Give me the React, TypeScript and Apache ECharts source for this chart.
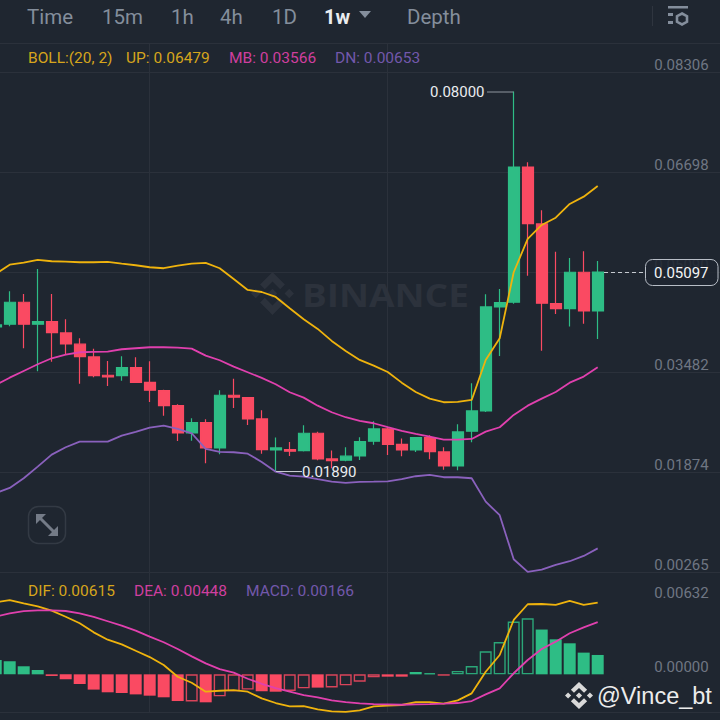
import React, { useEffect, useRef } from "react";
import * as echarts from "echarts";

const BG = "#1f2630";
const GRID = "#2b313b";
const UP = "#2ebd85";
const DOWN = "#fa4a62";
const YELLOW = "#efb30d";
const PINK = "#e040ae";
const PURPLE = "#8a61bd";
const FONT = "Roboto";

// open, close, low, high
const candles = [
  [0.04214, 0.04246, 0.04085, 0.04487],
  [0.04257, 0.04611, 0.04225, 0.04788],
  [0.04611, 0.04257, 0.03871, 0.04744],
  [0.04257, 0.04299, 0.03501, 0.05146],
  [0.04299, 0.04122, 0.03656, 0.04744],
  [0.04117, 0.0394, 0.0378, 0.04337],
  [0.03936, 0.03736, 0.03302, 0.04032],
  [0.03731, 0.03431, 0.03405, 0.03865],
  [0.03437, 0.0341, 0.03265, 0.03667],
  [0.03431, 0.03559, 0.0335, 0.03743],
  [0.03559, 0.03324, 0.03313, 0.03726],
  [0.03324, 0.03196, 0.03008, 0.03662],
  [0.03189, 0.02948, 0.02787, 0.03205],
  [0.02948, 0.02509, 0.02381, 0.02971],
  [0.02509, 0.02675, 0.02385, 0.02745],
  [0.02675, 0.02268, 0.02022, 0.02729],
  [0.02268, 0.03115, 0.02167, 0.03196],
  [0.03115, 0.03083, 0.02911, 0.03382],
  [0.03077, 0.02734, 0.02638, 0.03088],
  [0.02734, 0.02241, 0.02176, 0.02874],
  [0.02236, 0.02268, 0.0189, 0.02434],
  [0.02241, 0.02215, 0.02139, 0.02364],
  [0.02225, 0.02504, 0.02209, 0.02633],
  [0.02504, 0.02091, 0.0207, 0.0253],
  [0.02091, 0.02064, 0.01942, 0.02225],
  [0.0207, 0.02135, 0.02054, 0.02279],
  [0.02139, 0.02369, 0.02075, 0.0244],
  [0.02376, 0.02574, 0.02321, 0.02697],
  [0.02574, 0.02327, 0.02155, 0.02594],
  [0.02327, 0.02236, 0.02134, 0.02418],
  [0.02236, 0.02434, 0.02204, 0.0244],
  [0.02434, 0.02209, 0.02086, 0.02472],
  [0.02204, 0.01979, 0.01919, 0.02279],
  [0.01979, 0.02525, 0.01909, 0.02649],
  [0.02537, 0.02863, 0.0236, 0.03308],
  [0.02863, 0.04535, 0.02847, 0.0474],
  [0.04535, 0.04604, 0.03747, 0.04825],
  [0.04611, 0.06786, 0.04588, 0.08],
  [0.06786, 0.05875, 0.05039, 0.06862],
  [0.0587, 0.04595, 0.03833, 0.0609],
  [0.04588, 0.04508, 0.04423, 0.05425],
  [0.04508, 0.05093, 0.04219, 0.05323],
  [0.05093, 0.04471, 0.04267, 0.05431],
  [0.04471, 0.05097, 0.04021, 0.05275],
];

const bollUp = [
  0.05066, 0.05215, 0.05248, 0.05291, 0.0527, 0.05264, 0.05254, 0.05254, 0.05259, 0.05232, 0.05206,
  0.05174, 0.05158, 0.05199, 0.05232, 0.05243, 0.05158, 0.04986, 0.04809, 0.04776, 0.04696, 0.04514,
  0.04337, 0.04182, 0.03989, 0.03828, 0.03683, 0.03591, 0.0349, 0.03318, 0.03168, 0.03061, 0.03003,
  0.03008, 0.0304, 0.03683, 0.04032, 0.05093, 0.05629, 0.05854, 0.05971, 0.06192, 0.06309, 0.06479,
];
const bollMid = [
  0.03281, 0.03398, 0.03506, 0.03614, 0.0371, 0.03768, 0.03807, 0.03812, 0.03817, 0.03855, 0.03871,
  0.03887, 0.03887, 0.03881, 0.03865, 0.03752, 0.03678, 0.03575, 0.03485, 0.03394, 0.03292, 0.03164,
  0.03077, 0.02948, 0.02842, 0.02762, 0.02702, 0.02665, 0.02601, 0.02541, 0.02493, 0.0245, 0.02401,
  0.02401, 0.02413, 0.0253, 0.02601, 0.02799, 0.02948, 0.03061, 0.03168, 0.03318, 0.03415, 0.03566,
];
const bollDown = [
  0.01544, 0.01625, 0.01781, 0.01967, 0.0216, 0.02279, 0.02369, 0.02369, 0.02369, 0.02466, 0.02525,
  0.02594, 0.02627, 0.02574, 0.02504, 0.02252, 0.02204, 0.02199, 0.02176, 0.02043, 0.01887, 0.01823,
  0.01806, 0.01765, 0.01726, 0.01705, 0.01721, 0.01726, 0.01732, 0.01765, 0.01813, 0.01834, 0.01797,
  0.01797, 0.01781, 0.01405, 0.01186, 0.00478, 0.00274, 0.00311, 0.00387, 0.00446, 0.00531, 0.00653,
];
const dif = [
  0.00618, 0.00637, 0.00609, 0.00583, 0.00546, 0.00494, 0.00438, 0.0036, 0.00297, 0.00257, 0.00202,
  0.00148, 0.0008, -0.00021, -0.00072, -0.00149, -0.00141, -0.00135, -0.00149, -0.00206, -0.00246,
  -0.00275, -0.00272, -0.003, -0.00318, -0.00322, -0.00309, -0.00275, -0.00269, -0.00263, -0.00238,
  -0.00238, -0.00252, -0.00223, -0.00163, 0.00022, 0.00166, 0.00466, 0.00601, 0.00603, 0.00595,
  0.00629, 0.00595, 0.00615,
];
const dea = [
  0.00494, 0.00523, 0.00541, 0.00549, 0.00549, 0.00543, 0.00523, 0.00492, 0.00455, 0.00417, 0.00374,
  0.00323, 0.00275, 0.00217, 0.00154, 0.00094, 0.00045, 0.00014, -0.00038, -0.00081, -0.00118,
  -0.00149, -0.00178, -0.00197, -0.00223, -0.00238, -0.00249, -0.00255, -0.00257, -0.00261, -0.00257,
  -0.00255, -0.00252, -0.00246, -0.00229, -0.00172, -0.0012, 0.00009, 0.00123, 0.00217, 0.0028,
  0.00352, 0.00403, 0.00448,
];
const macd = [
  0.00123, 0.00112, 0.00069, 0.00037, -0.00014, -0.00043, -0.00083, -0.00131, -0.00154, -0.0016,
  -0.00172, -0.00183, -0.00197, -0.00229, -0.00232, -0.0024, -0.00189, -0.00146, -0.00131, -0.00146,
  -0.00149, -0.00143, -0.0012, -0.00114, -0.00112, -0.00094, -0.00063, -0.00026, -0.0002, -0.0002,
  0.0002, 0.00011, -0.00011, 0.00029, 0.00071, 0.00197, 0.00277, 0.00452, 0.0048, 0.00384, 0.003,
  0.00266, 0.00186, 0.00166,
];
// indexes of the MACD bars that are drawn hollow
const hollowBars = [14, 16, 17, 18, 21, 22, 24, 25, 26, 27, 31, 33, 34, 35, 36, 37, 38];

const emptySlots = 9;
const categories = [...candles.map((_, i) => `W${i + 1}`), ...Array(emptySlots).fill("").map((_, i) => `+${i + 1}`)];

const priceTicks = [0.00265, 0.01874, 0.03482, 0.0509, 0.06698, 0.08306];
const macdTicks = [0, 0.00632];
const priceTop = 0.0878;
const priceBottom = 0.00265;
const macdTop = 0.00873;
const macdBottom = -0.00323;
const verticalLines = [11, 28];

const tabs = [
  { label: "Time", x: 27 },
  { label: "15m", x: 102 },
  { label: "1h", x: 171 },
  { label: "4h", x: 220 },
  { label: "1D", x: 272 },
  { label: "Depth", x: 407 },
];

echarts.graphic.registerShape(
  "binanceLogo",
  echarts.graphic.extendPath(
    "M50 0L79 29L68 40L50 22L32 40L21 29ZM50 100L21 71L32 60L50 78L68 60L79 71ZM50 39L61 50L50 61L39 50ZM11 39L22 50L11 61L0 50ZM89 39L100 50L89 61L78 50Z",
    {}
  )
);

function label(text: string, x: number, y: number, fill: string, size = 15.5, extra: any = {}) {
  return {
    type: "text",
    x,
    y,
    silent: true,
    z: 100,
    style: {
      text,
      fill,
      fontFamily: extra.fontFamily ?? FONT,
      fontSize: size,
      fontWeight: extra.fontWeight ?? "normal",
      align: extra.align ?? "left",
      verticalAlign: "middle",
    },
  };
}

function line(x1: number, y1: number, x2: number, y2: number, stroke: string, lineWidth = 1, dash?: number[]) {
  return {
    type: "line",
    silent: true,
    z: 100,
    shape: { x1, y1, x2, y2 },
    style: { stroke, lineWidth, lineDash: dash },
  };
}

const graphics: any[] = [
  ...tabs.map((t) => label(t.label, t.x, 17, "#848e9c", 20.5)),
  label("1w", 324, 17, "#eaecef", 20, { fontWeight: "bold" }),
  { type: "polygon", silent: true, shape: { points: [[359, 11], [371, 11], [365, 18]] }, style: { fill: "#848e9c" } },
  line(652.5, 6, 652.5, 26, "#2f353f", 1),
  { type: "rect", silent: true, shape: { x: 668, y: 6, width: 20, height: 2.5 }, style: { fill: "#848e9c" } },
  { type: "rect", silent: true, shape: { x: 668, y: 13, width: 5, height: 3 }, style: { fill: "#848e9c" } },
  { type: "rect", silent: true, shape: { x: 668, y: 21, width: 5, height: 3 }, style: { fill: "#848e9c" } },
  {
    type: "polygon",
    silent: true,
    shape: { points: [[682, 13.5], [687, 16.2], [687, 21.8], [682, 24.5], [677, 21.8], [677, 16.2]] },
    style: { fill: "none", stroke: "#848e9c", lineWidth: 2.6 },
  },

  label("BOLL:(20, 2)", 28, 58, "#d6a51c"),
  label("UP: 0.06479", 126, 58, "#d6a51c"),
  label("MB: 0.03566", 229, 58, "#cf3f9f"),
  label("DN: 0.00653", 335, 58, "#7358ab"),

  label("DIF: 0.00615", 28, 591, "#d6a51c"),
  label("DEA: 0.00448", 134, 591, "#cf3f9f"),
  label("MACD: 0.00166", 246, 591, "#7358ab"),

  { type: "binanceLogo", silent: true, z: 1, x: 251, y: 272, scaleX: 0.43, scaleY: 0.43, style: { fill: "#2c323c" } },
  {
    type: "text",
    silent: true,
    z: 1,
    x: 302,
    y: 294,
    scaleX: 1.12,
    style: {
      text: "BINANCE",
      fill: "#2c323c",
      fontFamily: "Open Sans",
      fontWeight: "bold",
      fontSize: 33,
      align: "left",
      verticalAlign: "middle",
    },
  },

  { type: "rect", silent: true, shape: { x: 28.5, y: 506.5, width: 37, height: 37, r: 10 }, style: { fill: "none", stroke: "#333a44", lineWidth: 1.5 } },
  { type: "polygon", silent: true, shape: { points: [[36, 514], [46, 514], [36, 524]] }, style: { fill: "#747b87" } },
  { type: "polygon", silent: true, shape: { points: [[58, 536], [48, 536], [58, 526]] }, style: { fill: "#747b87" } },
  line(40, 518, 54, 532, "#747b87", 3),

  line(487, 92, 513.5, 92, "#8f959e", 1),
  label("0.08000", 430, 92, "#eaecef", 15),
  line(276, 471.5, 302, 471.5, "#c6cad0", 1),
  label("0.01890", 302, 472, "#eaecef", 15),

  line(604, 272.5, 645, 272.5, "#c6cad0", 1, [4, 3]),
  {
    type: "rect",
    silent: true,
    z: 99,
    shape: { x: 645.5, y: 259.5, width: 72.5, height: 26, r: 7 },
    style: { fill: "rgba(31,38,48,0.88)", stroke: "#b7bdc6", lineWidth: 1 },
  },
  label("0.05097", 654, 273, "#f4f5f6", 15),

  { type: "binanceLogo", silent: true, z: 100, x: 565, y: 682, scaleX: 0.28, scaleY: 0.27, style: { fill: "#d9d9d9" } },
  label("@Vince_bt", 597, 696, "#ececec", 23.5, { fontFamily: "Liberation Sans" }),
];

function bollSeries(name: string, data: number[], color: string) {
  return {
    name,
    type: "line",
    data,
    xAxisIndex: 0,
    yAxisIndex: 0,
    symbol: "none",
    z: 5,
    lineStyle: { color, width: 1.8 },
  };
}

function macdLine(name: string, data: number[], color: string) {
  return {
    name,
    type: "line",
    data,
    xAxisIndex: 1,
    yAxisIndex: 1,
    symbol: "none",
    z: 5,
    lineStyle: { color, width: 1.8 },
  };
}

const valueAxisBase = {
  type: "value",
  position: "right",
  axisLine: { show: false },
  scale: true,
  splitLine: { show: true, lineStyle: { color: GRID, width: 1 } },
};

const xAxisBase = {
  type: "category",
  data: categories,
  boundaryGap: false,
  axisLine: { show: false },
  axisLabel: { show: false },
  axisTick: { show: false, customValues: verticalLines },
  splitLine: { show: true, lineStyle: { color: GRID, width: 1 } },
};

const option: any = {
  animation: false,
  backgroundColor: BG,
  grid: [
    { left: -4.3, right: -3.7, top: 43, height: 529.5, outerBoundsMode: "none" },
    { left: -4.3, right: -3.7, top: 572.5, height: 139.5, outerBoundsMode: "none" },
  ],
  xAxis: [
    { ...xAxisBase, gridIndex: 0 },
    { ...xAxisBase, gridIndex: 1 },
  ],
  yAxis: [
    {
      ...valueAxisBase,
      gridIndex: 0,
      min: priceBottom,
      max: priceTop,
      axisTick: { show: false, customValues: [...priceTicks, priceTop] },
      axisLabel: {
        inside: true,
        margin: 15,
        customValues: priceTicks,
        formatter: (v: number) => v.toFixed(5),
        color: "#6f7683",
        fontFamily: FONT,
        fontSize: 15,
        align: "right",
        verticalAlign: "bottom",
      },
    },
    {
      ...valueAxisBase,
      gridIndex: 1,
      min: macdBottom,
      max: macdTop,
      axisTick: { show: false, customValues: [macdBottom] },
      axisLabel: {
        inside: true,
        margin: 15,
        customValues: macdTicks,
        formatter: (v: number) => v.toFixed(5),
        color: "#6f7683",
        fontFamily: FONT,
        fontSize: 15,
        align: "right",
        verticalAlign: "bottom",
      },
    },
  ],
  graphic: { elements: graphics },
  series: [
    {
      name: "KLine",
      type: "candlestick",
      xAxisIndex: 0,
      yAxisIndex: 0,
      barWidth: 11.5,
      z: 3,
      data: candles,
      itemStyle: {
        color: UP,
        color0: DOWN,
        borderColor: UP,
        borderColor0: DOWN,
        borderWidth: 1.2,
      },
    },
    bollSeries("UP", bollUp, YELLOW),
    bollSeries("MB", bollMid, PINK),
    bollSeries("DN", bollDown, PURPLE),
    {
      name: "MACD",
      type: "bar",
      xAxisIndex: 1,
      yAxisIndex: 1,
      barWidth: 12,
      z: 3,
      data: macd.map((value, i) => {
        const color = value >= 0 ? UP : DOWN;
        return hollowBars.includes(i)
          ? { value, itemStyle: { color: "transparent", borderColor: color, borderWidth: 1.4, opacity: 0.85 } }
          : { value, itemStyle: { color } };
      }),
    },
    macdLine("DIF", dif, YELLOW),
    macdLine("DEA", dea, PINK),
  ],
};

export default function App() {
  const ref = useRef<HTMLDivElement>(null);
  useEffect(() => {
    const chart = echarts.init(ref.current as HTMLDivElement, undefined, { renderer: "svg", width: 720, height: 720 });
    chart.setOption(option);
    return () => chart.dispose();
  }, []);
  return <div ref={ref} style={{ position: "absolute", left: 0, top: 0, width: 720, height: 720 }} />;
}
